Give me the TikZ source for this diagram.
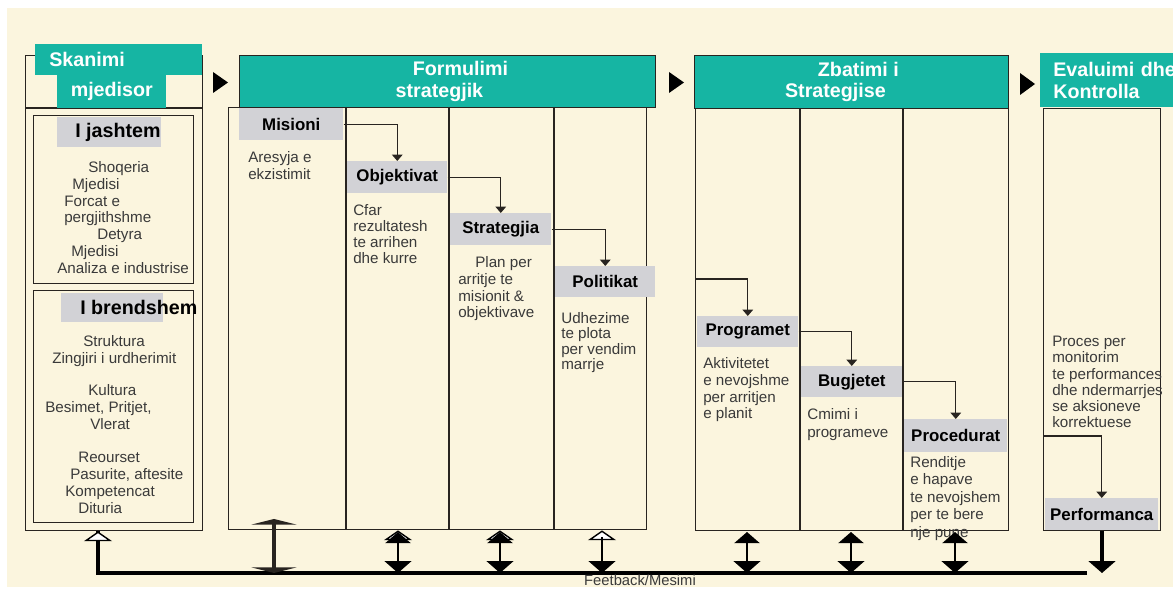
\documentclass[tikz,border=0pt]{standalone}
\usepackage{fontspec}
\setmainfont{Liberation Sans}
\usetikzlibrary{arrows.meta, positioning}
\definecolor{cream}{RGB}{251,245,222}
\definecolor{steal}{RGB}{22,181,163}
\definecolor{lgray}{RGB}{210,210,214}
\definecolor{dline}{RGB}{40,36,32}
\definecolor{dtext}{RGB}{58,58,58}
\newcommand{\upx}{0.025cm}

\begin{document}
\begin{tikzpicture}[x=0.025cm, y=-0.025cm,
  hdr/.style={fill=steal, text=white, font=\fontsize{14}{15.5}\selectfont\bfseries,
    inner sep=0pt, align=center, anchor=north west},
  lbl/.style={fill=lgray, text=black, font=\fontsize{12}{14}\selectfont\bfseries,
    inner sep=0pt, anchor=north west},
  txt/.style={text=dtext, font=\fontsize{10.8}{12}\selectfont,
    inner sep=0pt, align=left, anchor=north west},
  frm/.style={draw=dline, line width=1pt, inner sep=0pt, anchor=north west},
  arr/.style={-{Triangle[width=7.5pt,length=4.5pt]}, draw=dline, line width=0.9pt},
  fbk/.style={draw=black, line width=2.2pt},
  otip/.style={-{Triangle[open, fill=white, line width=1pt, width=20pt, length=7pt]},
    draw=black, line width=1.5pt},
  dbl/.style={{Triangle[width=18pt,length=8pt]}-{Triangle[width=19pt,length=8.5pt]},
    draw=black, line width=1.6pt},
  ibeam/.style={{Triangle[width=32pt,length=4pt]}-{Triangle[width=32pt,length=4pt]},
    draw=dline, line width=3pt}
]
  \useasboundingbox (0,0) rectangle (1173,589);
  \clip (0,0) rectangle (1173,589);
  \fill[white] (0,0) rectangle (1173,589);
  \fill[cream] (7,8) rectangle (1173,587);

  \node[frm, minimum width=177*\upx, minimum height=475*\upx] (scan) at (25,55) {};
  \draw[frm] (25,108) -- (202,108);
  \node[frm, minimum width=160*\upx, minimum height=168*\upx] (ext) at (33,115) {};
  \node[frm, minimum width=160*\upx, minimum height=232*\upx] (int) at (33,290) {};
  \node[hdr, align=left, text width=139*\upx, inner xsep=14*\upx,
    minimum height=31*\upx] (skn) at (35,44) {Skanimi};
  \node[hdr, minimum width=109*\upx, minimum height=33*\upx] (mjd) at (57,75) {mjedisor};

  \node[lbl, font=\fontsize{14}{15}\selectfont\bfseries, minimum width=103*\upx,
    minimum height=30*\upx] (jas) at (57,117) {\hspace*{0.45cm}I jashtem};
  \node[txt] (jast) at (57,161) {\hspace*{0.775cm}Shoqeria\\
    \hspace*{0.375cm}Mjedisi\\
    \hspace*{0.175cm}Forcat e\\
    \hspace*{0.175cm}pergjithshme\\
    \hspace*{1cm}Detyra\\
    \hspace*{0.35cm}Mjedisi\\
    Analiza e industrise};

  \node[lbl, minimum width=102*\upx, minimum height=29*\upx] (brd) at (61,293) {};
  \node[lbl, fill=none, anchor=west, font=\fontsize{14}{15}\selectfont\bfseries]
    (brdt) at (80,307) {I brendshem};
  \node[txt] (brd1) at (52,335) {\hspace*{0.775cm}Struktura\\Zingjiri i urdherimit};
  \node[txt] (brd2) at (45,384) {\hspace*{1.075cm}Kultura\\Besimet, Pritjet,\\
    \hspace*{1.125cm}Vlerat};
  \node[txt] (brd3) at (65,452) {\hspace*{0.325cm}Reourset\\
    \hspace*{0.125cm}Pasurite, aftesite\\Kompetencat\\\hspace*{0.325cm}Dituria};

  \fill[black] (213,72) -- (228,82.5) -- (213,93) -- cycle;
  \fill[black] (669,72) -- (684,82.5) -- (669,93) -- cycle;
  \fill[black] (1020,73) -- (1035,84) -- (1020,95) -- cycle;

  \node[frm, minimum width=418*\upx, minimum height=422*\upx] (form) at (228,107) {};
  \node[hdr, draw=dline, line width=0.6pt, minimum width=416*\upx,
    minimum height=52*\upx] (formh) at (239,55)
    {\hspace*{0.65cm}Formulimi\\\hspace*{-0.4cm}strategjik};
  \foreach \cx in {346,449,554}
    \draw[frm] (\cx,107) -- (\cx,529);

  \node[lbl, minimum width=104*\upx, minimum height=32*\upx] (mis) at (239,108) {Misioni};
  \node[lbl, minimum width=100*\upx, minimum height=32*\upx] (obj) at (347,161) {Objektivat};
  \node[lbl, minimum width=101*\upx, minimum height=32*\upx] (stg) at (450,213) {Strategjia};
  \node[lbl, minimum width=100*\upx, minimum height=31*\upx] (pol) at (555,266) {Politikat};

  \node[txt] (mist) at (248,151) {Aresyja e\\ekzistimit};
  \node[txt, font=\fontsize{10.8}{11.4}\selectfont] (objt) at (353,204)
    {Cfar\\rezultatesh\\te arrihen\\dhe kurre};
  \node[txt] (stgt) at (458,256) {\hspace*{0.425cm}Plan per\\arritje te\\misionit \&\\objektivave};
  \node[txt, font=\fontsize{10.8}{11}\selectfont] (polt) at (561,312)
    {Udhezime\\te plota\\per vendim\\marrje};

  \draw[arr] (mis.east) -| (obj.north);
  \draw[arr] (obj.east) -| (stg.north);
  \draw[arr] (stg.east) -| (pol.north);

  \node[frm, minimum width=313*\upx, minimum height=422*\upx] (zbat) at (695,108) {};
  \node[hdr, draw=dline, line width=0.6pt, minimum width=314*\upx,
    minimum height=53*\upx] (zbath) at (694,55)
    {\hspace*{0.35cm}Zbatimi i\\\hspace*{-0.8cm}Strategjise};
  \foreach \cx in {800,903}
    \draw[frm] (\cx,108) -- (\cx,530);

  \node[lbl, minimum width=101*\upx, minimum height=31*\upx] (prg) at (697,316) {Programet};
  \node[lbl, minimum width=101*\upx, minimum height=31*\upx] (bug) at (801,366) {Bugjetet};
  \node[lbl, minimum width=103*\upx, minimum height=33*\upx] (prc) at (904,419) {Procedurat};

  \node[txt] (prgt) at (703,357) {Aktivitetet\\e nevojshme\\per arritjen\\e planit};
  \node[txt, font=\fontsize{10.8}{12.6}\selectfont] (bugt) at (807,408) {Cmimi i\\programeve};
  \node[txt, font=\fontsize{10.8}{12.4}\selectfont] (prct) at (910,456)
    {Renditje\\e hapave\\te nevojshem\\per te bere\\nje pune};

  \coordinate (zin) at (695,279);
  \draw[arr] (zin) -| (prg.north);
  \draw[arr] (prg.east) -| (bug.north);
  \draw[arr] (bug.east) -| (prc.north);

  \node[frm, minimum width=117*\upx, minimum height=422*\upx] (eval) at (1043,108) {};
  \node[hdr, align=left, text width=125*\upx, inner xsep=13*\upx,
    minimum height=54*\upx] (evalh) at (1040,53) {Evaluimi dhe\\Kontrolla};
  \node[txt, font=\fontsize{10.8}{11.5}\selectfont] (evalt) at (1052,336)
    {Proces per\\monitorim\\te performances\\dhe ndermarrjes\\se aksioneve\\korrektuese};
  \node[lbl, minimum width=113*\upx, minimum height=32*\upx] (perf) at (1045,498) {Performanca};
  \coordinate (ein) at (1043,436);
  \draw[arr] (ein) -| (perf.north);

  \coordinate (fbL) at (98,573);
  \coordinate (fbR) at (1087,573);
  \draw[fbk] (fbR) -- (fbL) -- (fbL |- scan.south);
  \draw[otip] (98,545) -- (fbL |- scan.south);
  \node[text=dtext, font=\fontsize{10.5}{11}\selectfont, inner sep=0pt] (fbt) at (640,580.5)
    {Feetback/Mesimi};

  \coordinate (b1) at (274,573);
  \coordinate (t1) at (274,519);
  \draw[ibeam] (t1) -- (b1);
  \foreach \cx/\nm in {398/b2, 500/b3, 602/b4} {
    \coordinate (\nm) at (\cx,573);
    \draw[otip] (\cx,545) -- (\nm |- form.south);
  }
  \draw[dbl] (398,532) -- (b2);
  \draw[dbl] (500,532) -- (b3);
  \draw[-{Triangle[width=19pt,length=8.5pt]}, draw=black, line width=1.6pt]
    (602,537) -- (b4);
  \foreach \cx/\nm in {747/b5, 851/b6, 955/b7} {
    \coordinate (\nm) at (\cx,573);
    \draw[dbl] (\cx,532) -- (\nm);
  }
  \coordinate (b8) at (1102,573);
  \draw[-{Triangle[width=19pt,length=8.5pt]}, draw=black, line width=2.4pt]
    (perf.south -| b8) -- (b8);
\end{tikzpicture}
\end{document}
